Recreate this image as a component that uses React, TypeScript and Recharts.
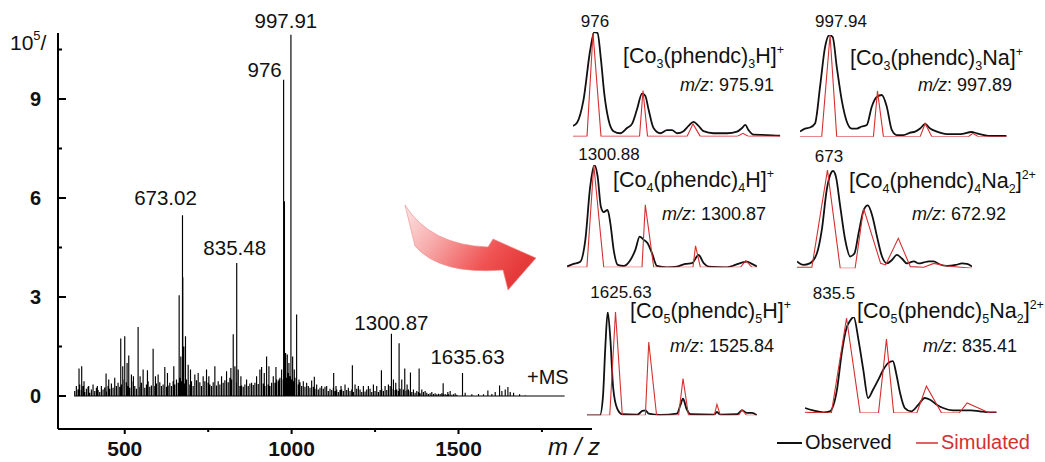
import React from "react"
import { ComposedChart, LineChart, Line, XAxis, YAxis, ReferenceDot } from "recharts"

const FONT = '"Liberation Sans", Arial, Helvetica, sans-serif'
const RED = "#d62f2f"

// ---- main spectrum (intensity in 10^5) ----
// distinct peaks [m/z, intensity]
const peaks: [number, number][] = [
  [355, 0.3], [363, 0.83], [371, 0.9], [378, 0.45], [392, 0.3], [405, 0.35], [418, 0.3],
  [444, 0.68], [452, 0.5], [470, 0.55], [488, 1.74], [494, 0.9], [500, 1.81], [507, 1.0],
  [512, 1.23], [520, 0.65], [526, 0.6], [540, 2.09], [546, 0.6], [555, 0.8], [568, 0.78],
  [585, 1.43], [592, 0.6], [600, 0.65], [620, 0.88], [628, 0.7], [647, 0.9], [663, 3.05],
  [668, 1.2], [673, 5.48], [674, 3.6], [677, 1.5], [682, 1.81], [690, 0.95], [697, 0.8],
  [710, 0.65], [720, 0.7], [735, 0.6], [745, 0.8], [752, 0.6], [770, 0.9], [790, 0.6],
  [805, 0.75], [818, 0.85], [825, 1.87], [830, 0.9], [835.5, 4.03], [840, 0.8], [848, 0.6],
  [865, 0.5], [880, 0.4], [895, 0.6], [905, 0.8], [910, 0.88], [918, 0.7], [925, 1.2],
  [932, 0.9], [945, 0.6], [953, 0.88], [962, 0.5], [970, 0.8], [976, 9.58], [978.5, 5.9],
  [982, 1.3], [987, 1.26], [992, 1.0], [997.9, 10.95], [1003, 1.2], [1008, 0.8], [1015, 2.47],
  [1022, 0.5], [1035, 0.45], [1045, 0.4], [1060, 0.47], [1068, 0.58], [1075, 0.35], [1090, 0.3],
  [1105, 0.3], [1126, 0.7], [1133, 0.3], [1148, 0.3], [1160, 0.35], [1182, 0.93], [1190, 0.35],
  [1200, 0.3], [1215, 0.3], [1230, 0.3], [1245, 0.35], [1255, 0.3], [1269, 0.78], [1280, 0.3],
  [1290, 0.35], [1299, 1.89], [1305, 0.5], [1312, 0.4], [1322, 1.6], [1330, 0.5], [1339, 0.83],
  [1346, 0.35], [1356, 0.71], [1365, 0.2], [1382, 0.83], [1390, 0.2], [1400, 0.15], [1420, 0.12],
  [1454, 0.39], [1468, 0.12], [1475, 0.15], [1490, 0.08], [1512, 0.7], [1520, 0.1], [1540, 0.05],
  [1560, 0.06], [1575, 0.05], [1588, 0.17], [1600, 0.06], [1610, 0.12], [1623, 0.32], [1630, 0.15],
  [1640, 0.2], [1648, 0.27], [1655, 0.12], [1665, 0.1], [1683, 0.05], [1700, 0.02], [1760, 0.01],
  [1818, 0],
]

// low-level noise, one value every 5 m/z starting at 350
const grassStart = 350
const grassStep = 5
const grass = [
  0.15, 0.25, 0.2, 0.35, 0.18, 0.3, 0.12, 0.22, 0.28, 0.1, 0.2, 0.32, 0.15, 0.25, 0.18, 0.12, 0.3, 0.2, 0.26, 0.14,
  0.3, 0.22, 0.38, 0.25, 0.45, 0.3, 0.4, 0.28, 0.35, 0.5, 0.32, 0.42, 0.3, 0.25, 0.38, 0.45, 0.3, 0.22, 0.35, 0.28,
  0.4, 0.3, 0.25, 0.35, 0.45, 0.28, 0.32, 0.5, 0.3, 0.38, 0.25, 0.42, 0.3, 0.35, 0.48, 0.28, 0.32, 0.4, 0.3, 0.45,
  0.35, 0.5, 0.4, 0.55, 0.45, 0.6, 0.38, 0.5, 0.42, 0.35, 0.45, 0.3, 0.4, 0.48, 0.35, 0.42, 0.3, 0.38, 0.45, 0.32,
  0.4, 0.35, 0.3, 0.42, 0.38, 0.32, 0.45, 0.35, 0.3, 0.4, 0.48, 0.35, 0.42, 0.55, 0.5, 0.6, 0.45, 0.4, 0.35, 0.3,
  0.32, 0.28, 0.35, 0.25, 0.3, 0.38, 0.28, 0.33, 0.4, 0.3, 0.36, 0.45, 0.32, 0.38, 0.3, 0.42, 0.35, 0.3, 0.4, 0.45,
  0.4, 0.5, 0.45, 0.55, 0.6, 0.5, 0.65, 0.55, 0.7, 0.6, 0.5, 0.45, 0.55, 0.4, 0.35, 0.42, 0.3, 0.35, 0.28, 0.32,
  0.3, 0.25, 0.32, 0.28, 0.22, 0.3, 0.2, 0.25, 0.18, 0.22, 0.28, 0.2, 0.15, 0.22, 0.18, 0.25, 0.15, 0.2, 0.12, 0.18,
  0.2, 0.15, 0.22, 0.18, 0.25, 0.15, 0.2, 0.12, 0.18, 0.22, 0.15, 0.2, 0.12, 0.18, 0.14, 0.2, 0.15, 0.22, 0.12, 0.18,
  0.15, 0.2, 0.12, 0.18, 0.22, 0.15, 0.25, 0.18, 0.2, 0.3, 0.22, 0.25, 0.18, 0.2, 0.15, 0.22, 0.25, 0.2, 0.15, 0.18,
  0.2, 0.15, 0.12, 0.18, 0.1, 0.15, 0.12, 0.08, 0.1, 0.12, 0.08, 0.1, 0.06, 0.08, 0.1, 0.06, 0.08, 0.05, 0.07, 0.06,
  0.08, 0.05, 0.06, 0.04, 0.05, 0.06, 0.04, 0.05, 0.03, 0.04,
]

const peakLabels = [
  { text: "997.91", mz: 997.9, h: 10.95 },
  { text: "976", mz: 976, h: 9.58 },
  { text: "673.02", mz: 673, h: 5.48 },
  { text: "835.48", mz: 835.5, h: 4.03 },
  { text: "1300.87", mz: 1299, h: 1.89 },
  { text: "1635.63", mz: 1512, h: 0.7 },
]
// pixel nudges of each label from its peak top
const labelNudge = [[-5, -7], [-19, -3], [-17, -10], [-2, -8], [0, -4], [5, -9]]

const yTicks = [0, 1.5, 3, 4.5, 6, 7.5, 9, 10.5]
const yLabeled = [0, 3, 6, 9]
const xTicks = [500, 750, 1000, 1250, 1500, 1750]
const xLabeled = [500, 1000, 1500]

// ---- isotope panels: [m/z, relative intensity %] ----
const obs976 = [[975.15, 10], [975.31, 13], [975.57, 35], [975.84, 83], [976.0, 100], [976.13, 99], [976.27, 73], [976.4, 41], [976.57, 16], [976.77, 5], [977.04, 3], [977.31, 8], [977.51, 12], [977.71, 26], [977.91, 41], [978.04, 39], [978.17, 26], [978.37, 8], [978.64, 3], [978.91, 6], [979.11, 6], [979.31, 3], [979.57, 5], [979.77, 10], [979.97, 14], [980.17, 10], [980.37, 5], [980.77, 3], [981.31, 3], [981.71, 4.5], [981.91, 8], [982.04, 11], [982.17, 6], [982.37, 1.6], [982.91, 1.3], [983.44, 0.6]]
const sim976 = [[975.15, 0], [975.71, 0], [975.95, 99], [976.27, 0], [977.81, 0], [977.95, 44], [978.13, 0], [979.71, 0], [979.95, 12], [980.24, 0], [981.71, 0], [981.95, 3], [982.17, 0], [983.44, 0]]

const obs997 = [[996.68, 5], [996.89, 8], [997.1, 9], [997.31, 13], [997.52, 49], [997.73, 88], [997.91, 100], [998.05, 98], [998.22, 69], [998.43, 36], [998.64, 15], [998.85, 8], [999.06, 8], [999.27, 10], [999.48, 11.5], [999.69, 29.5], [999.9, 39], [1000.11, 41], [1000.32, 29.5], [1000.53, 6.6], [1000.74, 1.6], [1001.02, 1.6], [1001.3, 4], [1001.51, 5], [1001.72, 8], [1001.93, 12.5], [1002.14, 8], [1002.42, 5], [1002.84, 2.6], [1003.4, 2.6], [1003.88, 4.6], [1004.09, 3.3], [1004.65, 0.7], [1005.35, 0.7]]
const sim997 = [[996.68, 0], [997.59, 0], [997.94, 100], [998.22, 0], [999.76, 0], [999.93, 45], [1000.18, 0], [1001.72, 0], [1001.93, 13], [1002.21, 0], [1003.74, 0], [1003.93, 3.3], [1004.16, 0], [1005.35, 0]]

const obs1300 = [[1299.81, 0.7], [1300.07, 3.3], [1300.33, 5.5], [1300.53, 27], [1300.72, 79], [1300.88, 100], [1301.01, 89], [1301.14, 59], [1301.25, 54], [1301.4, 56], [1301.51, 43], [1301.64, 17], [1301.8, 2.3], [1302.03, 1.3], [1302.29, 7], [1302.49, 17], [1302.66, 30], [1302.81, 27], [1302.97, 23.5], [1303.14, 14], [1303.34, 1.3], [1303.73, 0], [1304.12, 0.7], [1304.45, 3.3], [1304.71, 4], [1304.97, 12], [1305.17, 4], [1305.36, 0.7], [1306.08, 0], [1306.41, 2.3], [1306.67, 4.6], [1306.87, 5.5], [1307.06, 3.3], [1307.26, 0.7]]
const sim1300 = [[1299.81, 0], [1300.59, 0], [1300.86, 100], [1301.25, 0], [1302.75, 0], [1302.88, 61], [1303.21, 0], [1304.75, 0], [1304.85, 21], [1305.04, 0], [1306.61, 0], [1306.82, 6.5], [1307.06, 0], [1307.26, 0]]

const obs673 = [[672.49, 7], [672.58, 3.4], [672.67, 5], [672.77, 15], [672.84, 39], [672.91, 80], [672.97, 97], [673.0, 99], [673.04, 93], [673.1, 63], [673.17, 29], [673.24, 12], [673.3, 15], [673.36, 36], [673.43, 59], [673.49, 64], [673.55, 54], [673.62, 32], [673.69, 12], [673.76, 5], [673.83, 8.5], [673.9, 13.6], [673.97, 10], [674.04, 5], [674.14, 7], [674.21, 5], [674.28, 6], [674.35, 7], [674.42, 7], [674.49, 4.4], [674.61, 2.4], [674.73, 3.4], [674.82, 5], [674.89, 4.4], [674.96, 1.7]]
const sim673 = [[672.49, 1], [672.7, 1], [672.92, 100], [673.1, 0], [673.31, 0], [673.43, 61], [673.67, 5], [673.74, 3.4], [673.92, 30.5], [674.09, 1.7], [674.28, 1], [674.42, 5], [674.61, 2.4], [674.96, 0]]

const obs1625 = [[1525.0, 0], [1525.38, 0], [1525.47, 18], [1525.54, 66], [1525.61, 100], [1525.69, 73], [1525.77, 27], [1525.89, 6.5], [1526.04, 1], [1526.48, 0.6], [1526.63, 4.2], [1526.72, 4.8], [1526.82, 1.6], [1527.16, 0.3], [1527.65, 1.6], [1527.75, 9.7], [1527.83, 16], [1527.93, 6.5], [1528.05, 1], [1528.74, 0.6], [1528.83, 3.2], [1528.93, 0.6], [1529.42, 1], [1529.57, 4.8], [1529.71, 2.3], [1529.86, 2.3], [1530.01, 0]]
const sim1625 = [[1525.0, 0], [1525.67, 0], [1525.84, 100], [1526.04, 0], [1526.72, 0], [1526.82, 71], [1527.05, 0], [1527.7, 0], [1527.83, 35.5], [1527.99, 0], [1528.75, 0], [1528.83, 10.6], [1528.93, 0], [1529.47, 0], [1529.57, 5.5], [1529.7, 0], [1530.01, 0]]

const obs835 = [[834.89, 5.2], [834.99, 2.8], [835.12, 0.7], [835.2, 1.7], [835.29, 24], [835.35, 62.5], [835.41, 88.5], [835.45, 95.5], [835.5, 100], [835.56, 76], [835.62, 45], [835.68, 15.6], [835.74, 24], [835.81, 35], [835.87, 45], [835.93, 52], [835.99, 54], [836.03, 42], [836.08, 21], [836.14, 5.2], [836.22, 1.7], [836.31, 8.7], [836.39, 15.6], [836.45, 14], [836.54, 8.7], [836.62, 5.2], [836.74, 2.8], [836.87, 2.8], [836.97, 2.8], [837.08, 1.7], [837.2, 0.7], [837.29, 0.7]]
const sim835 = [[834.89, 0.7], [835.22, 0], [835.41, 99], [835.58, 0], [835.81, 0], [835.91, 77], [836.0, 0], [836.29, 0], [836.41, 28], [836.6, 0], [836.82, 0], [836.92, 10.4], [837.2, 0], [837.29, 0]]

type Part = [string, "n" | "sub" | "sup"]

const panels = [
  {
    obs: obs976, sim: sim976, box: [572.7, 32.3, 207.3, 104.4],
    peak: "976", peakAt: [595, 27],
    formula: [["[Co", "n"], ["3", "sub"], ["(phendc)", "n"], ["3", "sub"], ["H]", "n"], ["+", "sup"]] as Part[],
    formulaAt: [623, 63], mz: "975.91", mzAt: [680, 91],
  },
  {
    obs: obs997, sim: sim997, box: [800, 35, 206.7, 101.7],
    peak: "997.94", peakAt: [841, 27],
    formula: [["[Co", "n"], ["3", "sub"], ["(phendc)", "n"], ["3", "sub"], ["Na]", "n"], ["+", "sup"]] as Part[],
    formulaAt: [850, 65], mz: "997.89", mzAt: [918, 91],
  },
  {
    obs: obs1300, sim: sim1300, box: [566.7, 165, 190, 102.3],
    peak: "1300.88", peakAt: [609, 160],
    formula: [["[Co", "n"], ["4", "sub"], ["(phendc)", "n"], ["4", "sub"], ["H]", "n"], ["+", "sup"]] as Part[],
    formulaAt: [613, 187], mz: "1300.87", mzAt: [662, 220],
  },
  {
    obs: obs673, sim: sim673, box: [796.7, 170, 175, 98.3],
    peak: "673", peakAt: [829, 162],
    formula: [["[Co", "n"], ["4", "sub"], ["(phendc)", "n"], ["4", "sub"], ["Na", "n"], ["2", "sub"], ["]", "n"], ["2+", "sup"]] as Part[],
    formulaAt: [849, 188], mz: "672.92", mzAt: [912, 220],
  },
  {
    obs: obs1625, sim: sim1625, box: [586.7, 311.7, 170, 103.3],
    peak: "1625.63", peakAt: [621, 298],
    formula: [["[Co", "n"], ["5", "sub"], ["(phendc)", "n"], ["5", "sub"], ["H]", "n"], ["+", "sup"]] as Part[],
    formulaAt: [630, 318], mz: "1525.84", mzAt: [670, 352],
  },
  {
    obs: obs835, sim: sim835, box: [805, 317.3, 191.7, 96],
    peak: "835.5", peakAt: [834, 299],
    formula: [["[Co", "n"], ["5", "sub"], ["(phendc)", "n"], ["5", "sub"], ["Na", "n"], ["2", "sub"], ["]", "n"], ["2+", "sup"]] as Part[],
    formulaAt: [857, 318], mz: "835.41", mzAt: [923, 352],
  },
]

const toPts = (arr: number[][]) => arr.map(([mz, i]) => ({ mz, i }))

const sticks = [
  ...grass.map((h, k) => [grassStart + k * grassStep, h]),
  ...peaks,
]
  .sort((a, b) => a[0] - b[0])
  .flatMap(([mz, h]) => [{ mz, y: 0 }, { mz, y: h }, { mz, y: 0 }])

const YTick = (props: any) => {
  const { x, y, payload } = props
  const major = yLabeled.includes(payload.value)
  return (
    <g>
      <line x1={x} x2={x + (major ? 8 : 4)} y1={y} y2={y} stroke="#000" strokeWidth={2} />
      {major && (
        <text x={x - 17} y={y} dy="0.36em" textAnchor="end" fontFamily={FONT} fontWeight="bold" fontSize={20} fill="#111">
          {payload.value}
        </text>
      )}
    </g>
  )
}

const XTick = (props: any) => {
  const { x, y, payload } = props
  const major = xLabeled.includes(payload.value)
  return (
    <g>
      <line x1={x} x2={x} y1={y} y2={y + (major ? 5 : 3)} stroke="#000" strokeWidth={2} />
      {major && (
        <text x={x} y={y + 27} textAnchor="middle" fontFamily={FONT} fontWeight="bold" fontSize={21} fill="#111">
          {payload.value}
        </text>
      )}
    </g>
  )
}

function Formula({ x, y, parts }: { x: number; y: number; parts: Part[] }) {
  let cur = 0
  const off = { n: 0, sub: 5, sup: -9 }
  return (
    <text x={x} y={y} fontFamily={FONT} fontSize={21.5} fill="#111">
      {parts.map(([t, k], i) => {
        const dy = off[k] - cur
        cur = off[k]
        return (
          <tspan key={i} dy={dy} fontSize={k === "n" ? 21.5 : 12.5}>
            {t}
          </tspan>
        )
      })}
    </text>
  )
}

function Panel({ obs, sim, box }: { obs: number[][]; sim: number[][]; box: number[] }) {
  const [l, t, w, h] = box
  const o = toPts(obs)
  const s = toPts(sim)
  return (
    <div style={{ position: "absolute", left: l - 2, top: t - 2 }}>
      <LineChart width={w + 4} height={h + 4} margin={{ top: 2, right: 2, bottom: 2, left: 2 }}>
        <XAxis type="number" dataKey="mz" domain={[o[0].mz, o[o.length - 1].mz]} hide allowDataOverflow />
        <YAxis type="number" domain={[0, 100]} hide allowDataOverflow />
        <Line data={o} dataKey="i" type="monotone" stroke="#111" strokeWidth={1.8} dot={false} isAnimationActive={false} />
        <Line data={s} dataKey="i" type="linear" stroke={RED} strokeWidth={1.1} dot={false} isAnimationActive={false} />
      </LineChart>
    </div>
  )
}

export default function App() {
  return (
    <div style={{ position: "absolute", left: 0, top: 0, width: 1045, height: 462, background: "#fff", overflow: "hidden" }}>
      <div style={{ position: "absolute", left: 0, top: 0 }}>
        <ComposedChart width={620} height={462} data={sticks} margin={{ top: 33, right: 28, bottom: 0, left: 0 }}>
          <XAxis
            type="number"
            dataKey="mz"
            domain={[300, 1900]}
            ticks={xTicks}
            height={33}
            axisLine={{ stroke: "#000", strokeWidth: 2 }}
            tickLine={false}
            tickSize={0}
            tickMargin={0}
            tick={<XTick />}
            allowDataOverflow
          />
          <YAxis
            type="number"
            domain={[-1, 11]}
            ticks={yTicks}
            width={58}
            axisLine={{ stroke: "#000", strokeWidth: 2 }}
            tickLine={false}
            tickSize={0}
            tickMargin={0}
            tick={<YTick />}
            allowDataOverflow
          />
          <Line dataKey="y" type="linear" stroke="#000" strokeWidth={1.15} dot={false} isAnimationActive={false} />
          {peakLabels.map((p, i) => (
            <ReferenceDot
              key={p.text}
              x={p.mz}
              y={p.h}
              r={0}
              fill="none"
              stroke="none"
              label={(lp: any) => (
                <text
                  x={lp.viewBox.x + labelNudge[i][0]}
                  y={lp.viewBox.y + labelNudge[i][1]}
                  textAnchor="middle"
                  fontFamily={FONT}
                  fontSize={20.5}
                  fill="#111"
                >
                  {p.text}
                </text>
              )}
            />
          ))}
        </ComposedChart>
      </div>

      {panels.map((p) => (
        <Panel key={p.peak} obs={p.obs} sim={p.sim} box={p.box} />
      ))}

      <svg width={1045} height={462} style={{ position: "absolute", left: 0, top: 0, pointerEvents: "none" }}>
        <defs>
          <linearGradient id="arrowGrad" x1="0" y1="0" x2="1" y2="0.5">
            <stop offset="0" stopColor="#fde6e6" />
            <stop offset="0.35" stopColor="#f7a9a9" />
            <stop offset="0.75" stopColor="#f05454" />
            <stop offset="1" stopColor="#e53a3a" />
          </linearGradient>
        </defs>
        <path
          d="M405 205 Q430 245 488 247 L493 239 L536 258 L508 290 L503 270 Q440 275 415 246 Z"
          fill="url(#arrowGrad)"
          stroke="#e88"
          strokeWidth={0.6}
        />

        <text x={10} y={50} fontFamily={FONT} fontSize={21} fill="#111">
          10<tspan fontSize={13} dy={-10}>5</tspan>
          <tspan dy={10}>/</tspan>
        </text>
        <text x={548} y={455} fontFamily={FONT} fontSize={24} fontStyle="italic" fill="#111">
          m / z
        </text>
        <text x={527} y={384} fontFamily={FONT} fontSize={20} fill="#111">
          +MS
        </text>

        {panels.map((p) => (
          <g key={p.peak}>
            <text x={p.peakAt[0]} y={p.peakAt[1]} textAnchor="middle" fontFamily={FONT} fontSize={17} fill="#111">
              {p.peak}
            </text>
            <Formula x={p.formulaAt[0]} y={p.formulaAt[1]} parts={p.formula} />
            <text x={p.mzAt[0]} y={p.mzAt[1]} fontFamily={FONT} fontSize={18} fill="#111">
              <tspan fontStyle="italic">m/z</tspan>: {p.mz}
            </text>
          </g>
        ))}

        <line x1={777} x2={802} y1={443} y2={443} stroke="#111" strokeWidth={2} />
        <text x={805} y={449} fontFamily={FONT} fontSize={20} fill="#111">
          Observed
        </text>
        <line x1={916} x2={938} y1={443} y2={443} stroke={RED} strokeWidth={1.5} />
        <text x={941} y={449} fontFamily={FONT} fontSize={20} fill={RED}>
          Simulated
        </text>
      </svg>
    </div>
  )
}
